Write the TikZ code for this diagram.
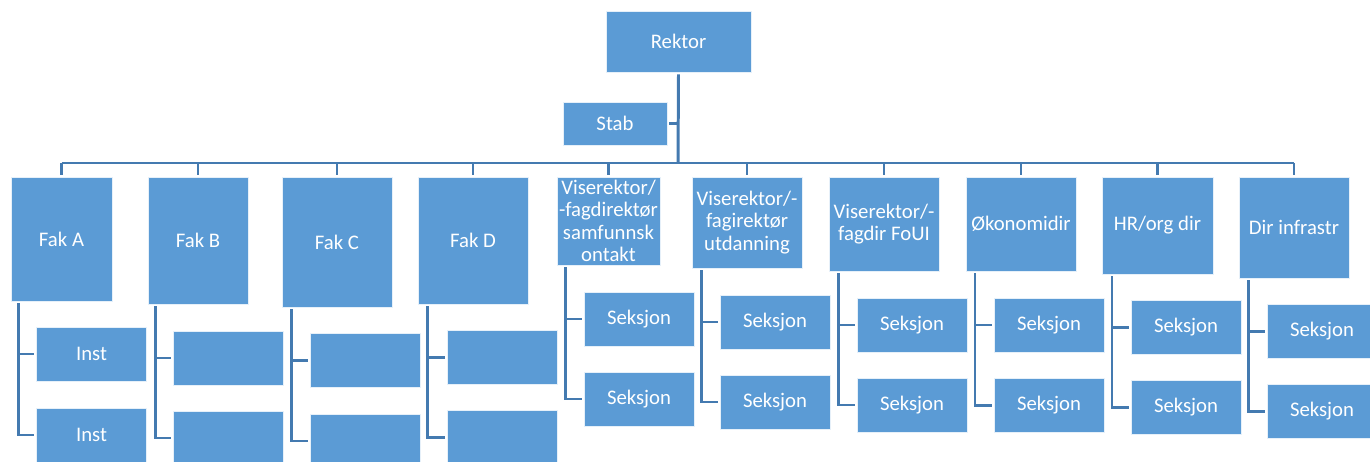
\documentclass[tikz,border=0pt]{standalone}
\usepackage{fontspec}
\setmainfont{Carlito}
\usepackage{tikz}
\usetikzlibrary{positioning}
\definecolor{boxblue}{RGB}{91,155,213}
\definecolor{lineblue}{RGB}{68,122,176}

\begin{document}
\begin{tikzpicture}[x=0.02cm, y=-0.02cm,
    orgbox/.style={rectangle, draw=white!85!boxblue, line width=0.5pt, fill=boxblue, text=white, inner sep=1pt, outer sep=1.4pt, align=center, font=\fontsize{11.8}{12.8}\selectfont},
    subbox/.style={orgbox, minimum width=2.2cm, minimum height=1.08cm},
    wire/.style={lineblue, line width=1.4pt},
    trunk/.style={lineblue, line width=1.7pt}
]
\useasboundingbox (0,0) rectangle (1370,462);
\clip (0,0) rectangle (1370,462);

% top
\node (rektor) [orgbox, minimum width=2.9cm, minimum height=1.22cm] at (678.5,41.5) {Rektor};
\node (stab)   [orgbox, minimum width=2.08cm, minimum height=0.86cm] at (615,123.5) {Stab};
\coordinate (bus) at (678,163);

% second level
\node (fakA)    [orgbox, minimum width=2.02cm, minimum height=2.48cm] at (61.5,239) {Fak A};
\node (fakB)    [orgbox, minimum width=2.0cm,  minimum height=2.54cm] at (198,240.5) {Fak B};
\node (fakC)    [orgbox, minimum width=2.2cm,  minimum height=2.6cm]  at (337,242) {Fak C};
\node (fakD)    [orgbox, minimum width=2.2cm,  minimum height=2.54cm] at (473,240.5) {Fak D};
\node (visSamf) [orgbox, minimum width=2.06cm, minimum height=1.76cm] at (608.5,221) {Viserektor/\\-fagdirektør\\samfunnsk\\ontakt};
\node (visUtd)  [orgbox, minimum width=2.2cm,  minimum height=1.82cm] at (747,222.5) {Viserektor/-\\fagirektør\\utdanning};
\node (visFoui) [orgbox, minimum width=2.2cm,  minimum height=1.88cm] at (884,224) {Viserektor/-\\fagdir FoUI};
\node (okon)    [orgbox, minimum width=2.2cm,  minimum height=1.88cm] at (1021,224) {Økonomidir};
\node (hrorg)   [orgbox, minimum width=2.22cm, minimum height=1.94cm] at (1157.5,225.5) {HR/org dir};
\node (infra)   [orgbox, minimum width=2.2cm,  minimum height=2.02cm] at (1294,227.5) {Dir infrastr};

% third level
\node (instA1) [subbox] at (91.5,354) {Inst};
\node (instA2) [subbox] at (91.5,435) {Inst};
\node (subB1)  [subbox] at (228.5,358) {};
\node (subB2)  [subbox] at (228.5,438) {};
\node (subC1)  [subbox] at (365,360.5) {};
\node (subC2)  [subbox] at (365,441) {};
\node (subD1)  [subbox] at (502,357.5) {};
\node (subD2)  [subbox] at (502,437.5) {};
\node (seksS1) [subbox] at (639,319) {Seksjon};
\node (seksS2) [subbox] at (639,399) {Seksjon};
\node (seksU1) [subbox] at (775,322) {Seksjon};
\node (seksU2) [subbox] at (775,402) {Seksjon};
\node (seksF1) [subbox] at (912,325) {Seksjon};
\node (seksF2) [subbox] at (912,405) {Seksjon};
\node (seksO1) [subbox] at (1049,325) {Seksjon};
\node (seksO2) [subbox] at (1049,405.5) {Seksjon};
\node (seksH1) [subbox] at (1186,327.5) {Seksjon};
\node (seksH2) [subbox] at (1186,407.5) {Seksjon};
\node (seksI1) [subbox] at (1322,331.5) {Seksjon};
\node (seksI2) [subbox] at (1322,411.5) {Seksjon};

% trunk and bus
\draw [trunk] (rektor.south) -- (bus);
\draw [wire] (stab.east) -- (stab.east -| rektor.south);
\draw [trunk] (fakA.north |- bus) -- (infra.north |- bus);
\draw [wire] (fakA.north) -- (fakA.north |- bus);
\draw [wire] (fakB.north) -- (fakB.north |- bus);
\draw [wire] (fakC.north) -- (fakC.north |- bus);
\draw [wire] (fakD.north) -- (fakD.north |- bus);
\draw [wire] (visSamf.north) -- (visSamf.north |- bus);
\draw [wire] (visUtd.north) -- (visUtd.north |- bus);
\draw [wire] (visFoui.north) -- (visFoui.north |- bus);
\draw [wire] (okon.north) -- (okon.north |- bus);
\draw [wire] (hrorg.north) -- (hrorg.north |- bus);
\draw [wire] (infra.north) -- (infra.north |- bus);

% spines to children
\draw [wire] ([xshift=0.2cm]fakA.south west) |- (instA1.west);
\draw [wire] ([xshift=0.2cm]fakA.south west) |- (instA2.west);
\draw [wire] ([xshift=0.2cm]fakB.south west) |- (subB1.west);
\draw [wire] ([xshift=0.2cm]fakB.south west) |- (subB2.west);
\draw [wire] ([xshift=0.24cm]fakC.south west) |- (subC1.west);
\draw [wire] ([xshift=0.24cm]fakC.south west) |- (subC2.west);
\draw [wire] ([xshift=0.24cm]fakD.south west) |- (subD1.west);
\draw [wire] ([xshift=0.24cm]fakD.south west) |- (subD2.west);
\draw [wire] ([xshift=0.22cm]visSamf.south west) |- (seksS1.west);
\draw [wire] ([xshift=0.22cm]visSamf.south west) |- (seksS2.west);
\draw [wire] ([xshift=0.24cm]visUtd.south west) |- (seksU1.west);
\draw [wire] ([xshift=0.24cm]visUtd.south west) |- (seksU2.west);
\draw [wire] ([xshift=0.24cm]visFoui.south west) |- (seksF1.west);
\draw [wire] ([xshift=0.24cm]visFoui.south west) |- (seksF2.west);
\draw [wire] ([xshift=0.23cm]okon.south west) |- (seksO1.west);
\draw [wire] ([xshift=0.23cm]okon.south west) |- (seksO2.west);
\draw [wire] ([xshift=0.25cm]hrorg.south west) |- (seksH1.west);
\draw [wire] ([xshift=0.25cm]hrorg.south west) |- (seksH2.west);
\draw [wire] ([xshift=0.24cm]infra.south west) |- (seksI1.west);
\draw [wire] ([xshift=0.24cm]infra.south west) |- (seksI2.west);

\end{tikzpicture}
\end{document}
